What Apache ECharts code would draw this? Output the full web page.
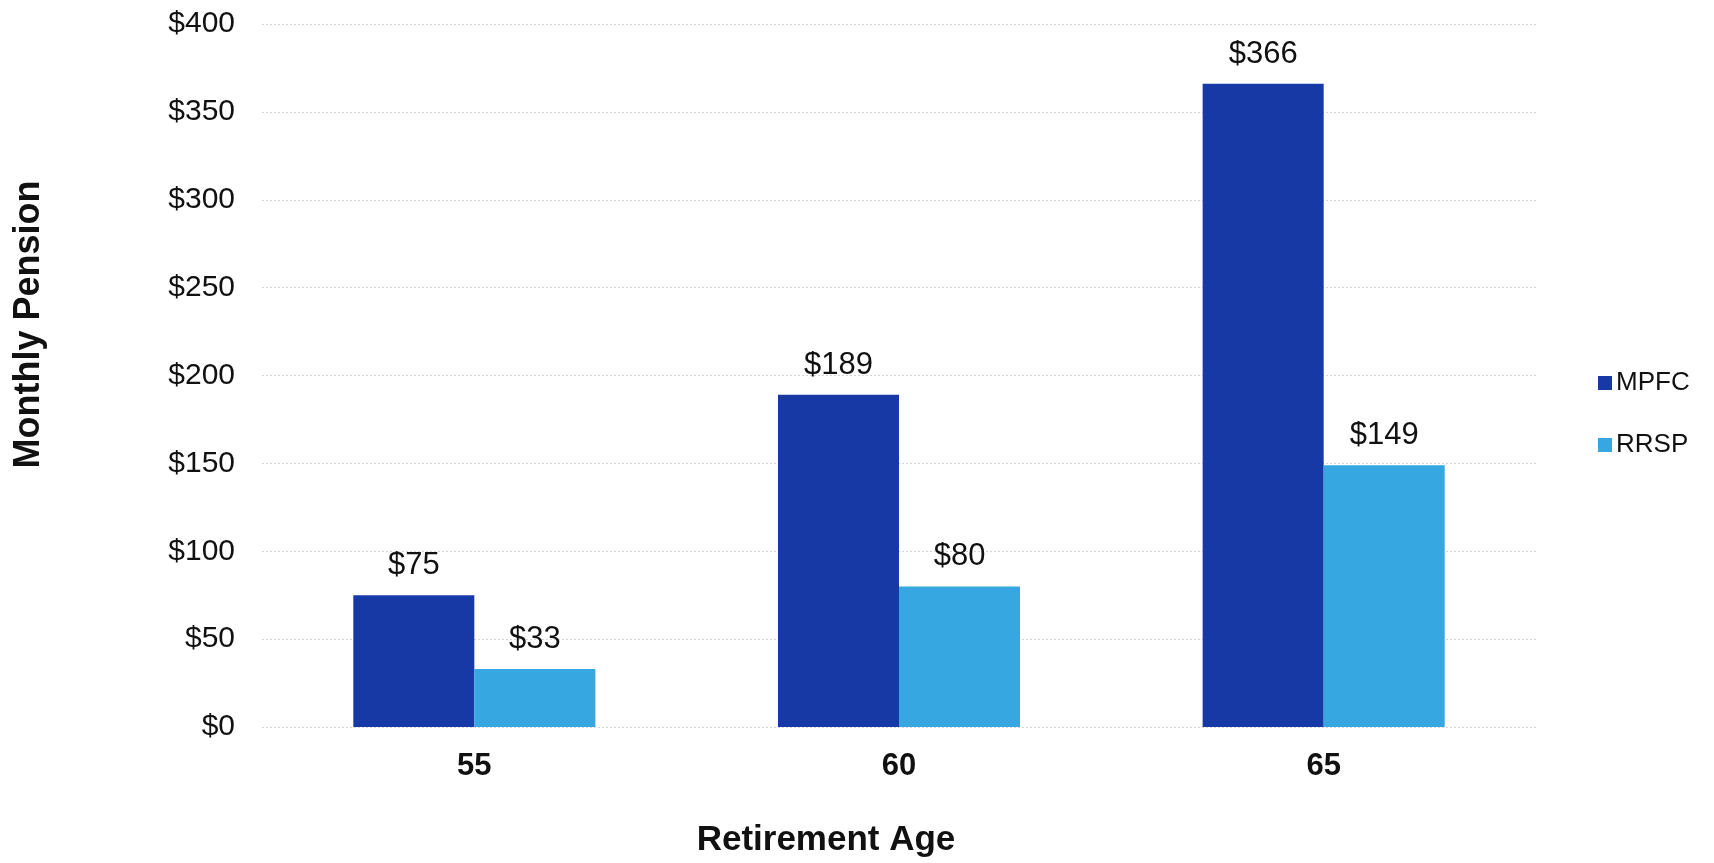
<!DOCTYPE html>
<html>
<head>
<meta charset="utf-8">
<script src="https://cdn.jsdelivr.net/npm/echarts@6/dist/echarts.min.js"></script>
<style>
html,body{margin:0;padding:0;background:#fff;}
#chart{width:1714px;height:863px;}
</style>
</head>
<body>
<div id="chart"></div>
<script>
const categories = ['55', '60', '65'];
const mpfc = [75, 189, 366];
const rrsp = [33, 80, 149];
const seriesNames = ['MPFC', 'RRSP'];
const yTicks = { min: 0, max: 400, interval: 50 };

const FONT = '"Liberation Sans", Arial, sans-serif';
const chart = echarts.init(document.getElementById('chart'));
chart.setOption({
  animation: false,
  backgroundColor: '#ffffff',
  grid: { left: 262, right: 178, top: 24, bottom: 133 },
  legend: {
    orient: 'vertical',
    left: 1593,
    top: 365,
    itemWidth: 14,
    itemHeight: 14,
    itemGap: 36,
    icon: 'rect',
    textStyle: { fontFamily: FONT, fontSize: 26, color: '#111', padding: [0, 0, 0, -1] },
    data: seriesNames
  },
  xAxis: {
    type: 'category',
    data: categories,
    axisLine: { show: false },
    axisTick: { show: false },
    axisLabel: { fontFamily: FONT, fontSize: 31, fontWeight: 'bold', color: '#111', margin: 24 },
    name: 'Retirement Age',
    nameLocation: 'middle',
    nameGap: 96,
    nameTextStyle: { fontFamily: FONT, fontSize: 35, fontWeight: 'bold', color: '#111', padding: [0, 146, 0, 0] }
  },
  yAxis: {
    type: 'value',
    min: yTicks.min,
    max: yTicks.max,
    interval: yTicks.interval,
    axisLine: { show: false },
    axisTick: { show: false },
    axisLabel: { fontFamily: FONT, fontSize: 30, color: '#111', margin: 27, formatter: v => '$' + v },
    splitLine: { lineStyle: { color: '#d6d6d6', width: 1, type: [2, 2] } },
    name: 'Monthly Pension',
    nameLocation: 'middle',
    nameGap: 215,
    nameTextStyle: { fontFamily: FONT, fontSize: 36, fontWeight: 'bold', color: '#111', padding: [0, 0, 0, 102] }
  },
  series: [
    {
      name: seriesNames[0], type: 'bar', data: mpfc,
      barGap: '0%', barCategoryGap: '43%',
      itemStyle: { color: '#1639a6' },
      label: { show: true, position: 'top', distance: 14, fontFamily: FONT, fontSize: 31, color: '#111', formatter: p => '$' + p.value }
    },
    {
      name: seriesNames[1], type: 'bar', data: rrsp,
      barGap: '0%', barCategoryGap: '43%',
      itemStyle: { color: '#37a7e2' },
      label: { show: true, position: 'top', distance: 14, fontFamily: FONT, fontSize: 31, color: '#111', formatter: p => '$' + p.value }
    }
  ]
});
</script>
</body>
</html>
